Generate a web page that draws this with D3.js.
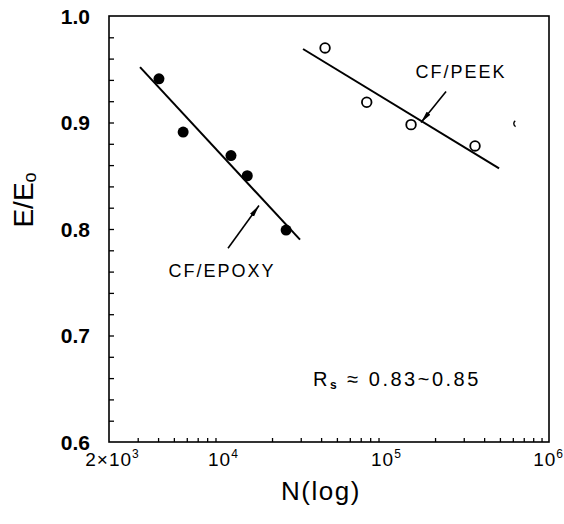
<!DOCTYPE html>
<html>
<head>
<meta charset="utf-8">
<script src="https://cdn.jsdelivr.net/npm/d3@7"></script>
<style>
body { margin: 0; background: #fff; }
text { font-family: "Liberation Sans", Arial, sans-serif; fill: #000; }
</style>
</head>
<body>
<svg width="564" height="524"></svg>
<script>
// CF/EPOXY (filled) and CF/PEEK (open) stiffness ratio vs. cycles
var epoxyN = [4050, 5700, 11200, 14100, 24400]
var epoxyE = [0.941, 0.891, 0.869, 0.850, 0.799]
var peekN = [42300, 76200, 142500, 351800]
var peekE = [0.970, 0.919, 0.898, 0.878]
var strayN = [637000]
var strayE = [0.899]

// fitted lines (end points)
var epoxyFitN = [3100, 29700]
var epoxyFitE = [0.952, 0.790]
var peekFitN = [31000, 494000]
var peekFitE = [0.969, 0.857]

var yTicks = [0.6, 0.7, 0.8, 0.9, 1.0]
var xTicks = [2000, 1e4, 1e5, 1e6]
var xTickBase = ['2×10', '10', '10', '10']
var xTickExp = ['3', '4', '5', '6']

var svg = d3.select('svg')
  , m = { left: 109, right: 549, top: 16, bottom: 442 }

var x = d3.scaleLog().domain([2000, 1e6]).range([m.left, m.right])
var y = d3.scaleLinear().domain([0.6, 1.0]).range([m.bottom, m.top])

// frame
svg.append('rect')
  .attr('x', m.left).attr('y', m.top)
  .attr('width', m.right - m.left).attr('height', m.bottom - m.top)
  .attr('fill', 'none').attr('stroke', '#000').attr('stroke-width', 1.6)

// inward ticks
var yMinor = d3.range(31, 50).map(function (i) { return i * 0.02 }).filter(function (v) { return v < 0.999 })
svg.append('g').attr('transform', 'translate(' + m.left + ',0)')
  .call(d3.axisLeft(y).tickValues(yMinor).tickSize(-5).tickFormat(''))
  .call(function (g) { g.select('.domain').remove() })

var xMinor = []
;[1e3, 1e4, 1e5].forEach(function (d) {
  d3.range(2, 10).forEach(function (k) {
    var v = k * d
    if (v > 2000 && v < 1e6) xMinor.push(v)
  })
})
svg.append('g').attr('transform', 'translate(0,' + m.bottom + ')')
  .call(d3.axisBottom(x).tickValues(xMinor).tickSize(-4).tickFormat(''))
  .call(function (g) { g.select('.domain').remove() })

svg.selectAll('.tick line').attr('stroke-width', 1.3)

// y tick labels
svg.selectAll('.ylab').data(yTicks).enter().append('text')
  .attr('class', 'ylab')
  .attr('x', m.left - 19).attr('y', y)
  .attr('dy', '0.36em')
  .attr('text-anchor', 'end')
  .style('font-size', '21px').style('font-weight', 'bold')
  .text(d3.format('.1f'))

// x tick labels
var last = xTicks.length - 1
var xl = svg.selectAll('.xlab').data(xTicks).enter().append('text')
  .attr('class', 'xlab')
  .attr('x', function (d, i) { return i === 0 ? x(d) + 3 : i === last ? 563 : x(d) })
  .attr('y', m.bottom + 24)
  .attr('text-anchor', function (d, i) { return i === last ? 'end' : 'middle' })
  .style('font-size', '19px').style('letter-spacing', '1px')
xl.append('tspan').text(function (d, i) { return xTickBase[i] })
xl.append('tspan').attr('dy', -8).style('font-size', '12px').style('letter-spacing', '0px')
  .text(function (d, i) { return xTickExp[i] })

// axis titles
svg.append('text')
  .attr('transform', 'translate(33,200) rotate(-90)')
  .attr('text-anchor', 'middle')
  .style('font-size', '28px')
  .text('E/E')
  .append('tspan').attr('dy', 3).style('font-size', '18px').text('o')

svg.append('text')
  .attr('x', 321).attr('y', 500)
  .attr('text-anchor', 'middle')
  .style('font-size', '26px').style('letter-spacing', '1.5px')
  .text('N(log)')

// fit lines
var line = d3.line().x(function (d) { return x(d[0]) }).y(function (d) { return y(d[1]) })
svg.append('path').datum(d3.zip(epoxyFitN, epoxyFitE)).attr('d', line)
  .attr('stroke', '#000').attr('stroke-width', 2).attr('fill', 'none')
svg.append('path').datum(d3.zip(peekFitN, peekFitE)).attr('d', line)
  .attr('stroke', '#000').attr('stroke-width', 2).attr('fill', 'none')

// points
svg.selectAll('.ep').data(d3.zip(epoxyN, epoxyE)).enter().append('circle')
  .attr('cx', function (d) { return x(d[0]) }).attr('cy', function (d) { return y(d[1]) })
  .attr('r', 5.5).attr('fill', '#000')

svg.selectAll('.pk').data(d3.zip(peekN, peekE)).enter().append('circle')
  .attr('cx', function (d) { return x(d[0]) }).attr('cy', function (d) { return y(d[1]) })
  .attr('r', 4.8).attr('fill', '#fff').attr('stroke', '#000').attr('stroke-width', 1.8)

// faint partial mark
var arc = d3.arc().innerRadius(2.6).outerRadius(4).startAngle(3.6).endAngle(5.7)
svg.selectAll('.st').data(d3.zip(strayN, strayE)).enter().append('path')
  .attr('transform', function (d) { return 'translate(' + x(d[0]) + ',' + y(d[1]) + ')' })
  .attr('d', arc).attr('fill', '#000')

// annotations
svg.append('defs').append('marker')
  .attr('id', 'head').attr('viewBox', '0 0 12 6')
  .attr('refX', 12).attr('refY', 3)
  .attr('markerWidth', 12).attr('markerHeight', 6)
  .attr('markerUnits', 'userSpaceOnUse')
  .attr('orient', 'auto')
  .append('path').attr('d', 'M0,0.6 L12,3 L0,5.4 Z').attr('fill', '#000')

var arrows = [
  [[10740, 0.782], [16640, 0.822]],
  [[233600, 0.929], [164000, 0.900]]
]
svg.selectAll('.arrow').data(arrows).enter().append('path')
  .attr('d', line)
  .attr('stroke', '#000').attr('stroke-width', 1.6).attr('fill', 'none')
  .attr('marker-end', 'url(#head)')

var labels = [
  { n: 9870, e: 0.755, t: 'CF/EPOXY' },
  { n: 289000, e: 0.942, t: 'CF/PEEK' }
]
svg.selectAll('.lab').data(labels).enter().append('text')
  .attr('x', function (d) { return x(d.n) }).attr('y', function (d) { return y(d.e) })
  .attr('text-anchor', 'middle')
  .style('font-size', '18px').style('letter-spacing', '2px')
  .text(function (d) { return d.t })

var rs = svg.append('text')
  .attr('x', x(35700)).attr('y', y(0.653))
  .style('font-size', '20px').style('letter-spacing', '2.5px')
rs.append('tspan').text('R')
rs.append('tspan').attr('dy', 3).style('font-size', '12px').style('font-weight', 'bold').text('s')
rs.append('tspan').attr('dy', -3).text(' ≈ 0.83~0.85')
</script>
</body>
</html>
